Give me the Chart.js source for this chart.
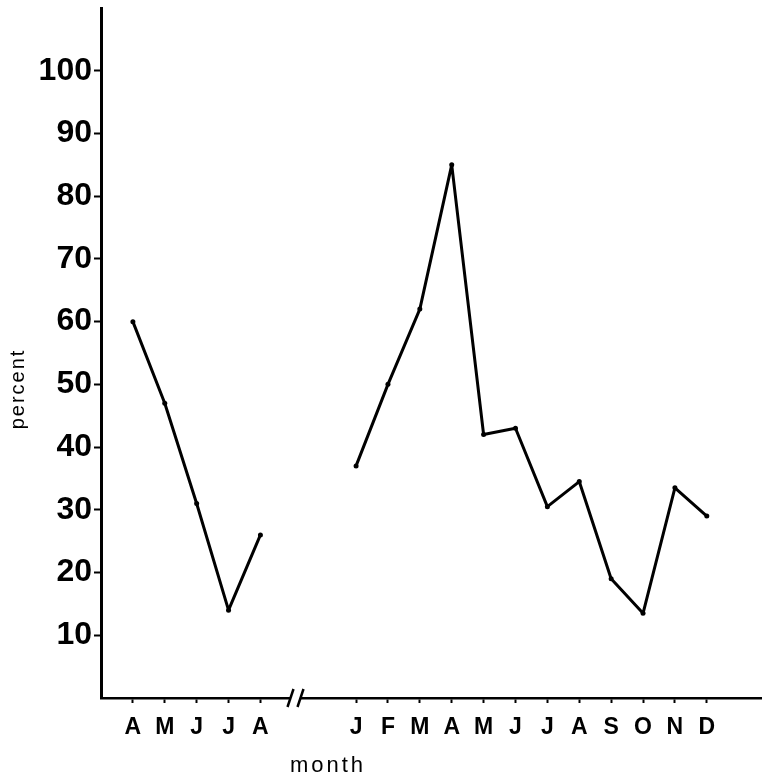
<!DOCTYPE html>
<html>
<head>
<meta charset="utf-8">
<script src="https://cdn.jsdelivr.net/npm/chart.js@4"></script>
<style>
  body { margin: 0; background: #fff; }
  canvas { display: block; }
</style>
</head>
<body>
<canvas id="chart" width="765" height="777"></canvas>
<script>
// months along the x axis, two empty slots mark the axis break
const months = ['A', 'M', 'J', 'J', 'A', '', '', 'J', 'F', 'M', 'A', 'M', 'J', 'J', 'A', 'S', 'O', 'N', 'D'];
const percent = [60, 47, 31, 14, 26, null, null, 37, 50, 62, 85, 42, 43, 30.5, 34.5, 19, 13.5, 33.5, 29];
const yTicks = [10, 20, 30, 40, 50, 60, 70, 80, 90, 100];

const BREAK_AT = 5.1;

// labels "percent" / "month" and the // break in the x axis
const extras = {
    id: 'extras',
    afterDraw(chart) {
        const ctx = chart.ctx;
        const x = chart.scales.x;
        const area = chart.chartArea;
        const cx = x.getPixelForValue(BREAK_AT);
        const y0 = area.bottom;

        ctx.save();
        ctx.fillStyle = '#fff';
        ctx.fillRect(cx - 5, y0 - 3, 10, 6);
        ctx.strokeStyle = '#000';
        ctx.lineWidth = 2.5;
        [-5, 5].forEach(d => {
            ctx.beginPath();
            ctx.moveTo(cx + d - 3, y0 + 9);
            ctx.lineTo(cx + d + 3, y0 - 9);
            ctx.stroke();
        });

        ctx.fillStyle = '#000';
        ctx.font = '22px "Liberation Sans", Arial, sans-serif';
        ctx.letterSpacing = '3px';
        ctx.textAlign = 'center';
        ctx.textBaseline = 'middle';
        ctx.fillText('month', 328, 766);

        ctx.font = '20px "Liberation Sans", Arial, sans-serif';
        ctx.letterSpacing = '2px';
        ctx.translate(18, 389);
        ctx.rotate(-Math.PI / 2);
        ctx.fillText('percent', 0, 0);
        ctx.restore();
    }
};

const ctx = document.getElementById('chart').getContext('2d');
new Chart(ctx, {
    type: 'line',
    data: {
        datasets: [{
            data: percent.map((v, i) => ({ x: i, y: v })),
            borderColor: '#000',
            borderWidth: 3,
            borderJoinStyle: 'round',
            borderCapStyle: 'round',
            pointRadius: 2.5,
            pointBackgroundColor: '#000',
            pointBorderWidth: 0,
            tension: 0,
            spanGaps: false,
            clip: false
        }]
    },
    options: {
        responsive: false,
        animation: false,
        layout: { padding: { top: 8, right: 3 } },
        plugins: {
            legend: { display: false },
            tooltip: { enabled: false }
        },
        scales: {
            x: {
                type: 'linear',
                min: -1,
                max: 19.7,
                afterBuildTicks: s => {
                    s.ticks = months.map((m, i) => ({ value: i })).filter(t => months[t.value]);
                },
                afterFit: s => {
                    s.height = 79;
                    s.paddingLeft = 0;
                    s.paddingRight = 0;
                },
                ticks: {
                    autoSkip: false,
                    maxRotation: 0,
                    padding: 11,
                    color: '#000',
                    font: { family: '"Liberation Sans", Arial, sans-serif', size: 23, weight: 'bold' },
                    callback: v => months[v]
                },
                grid: {
                    drawOnChartArea: false,
                    tickLength: 5,
                    tickColor: '#000',
                    tickWidth: 2
                },
                border: { display: true, color: '#000', width: 2.5 }
            },
            y: {
                min: 0,
                max: 110,
                afterBuildTicks: s => {
                    s.ticks = yTicks.map(v => ({ value: v }));
                },
                afterFit: s => {
                    s.width = 101;
                    s.paddingTop = 0;
                    s.paddingBottom = 0;
                },
                ticks: {
                    padding: 2,
                    color: '#000',
                    font: { family: '"Liberation Sans", Arial, sans-serif', size: 32, weight: 'bold' }
                },
                grid: {
                    drawOnChartArea: false,
                    tickLength: 7,
                    tickColor: '#000',
                    tickWidth: 2
                },
                border: { display: true, color: '#000', width: 3 }
            }
        }
    },
    plugins: [extras]
});
</script>
</body>
</html>
